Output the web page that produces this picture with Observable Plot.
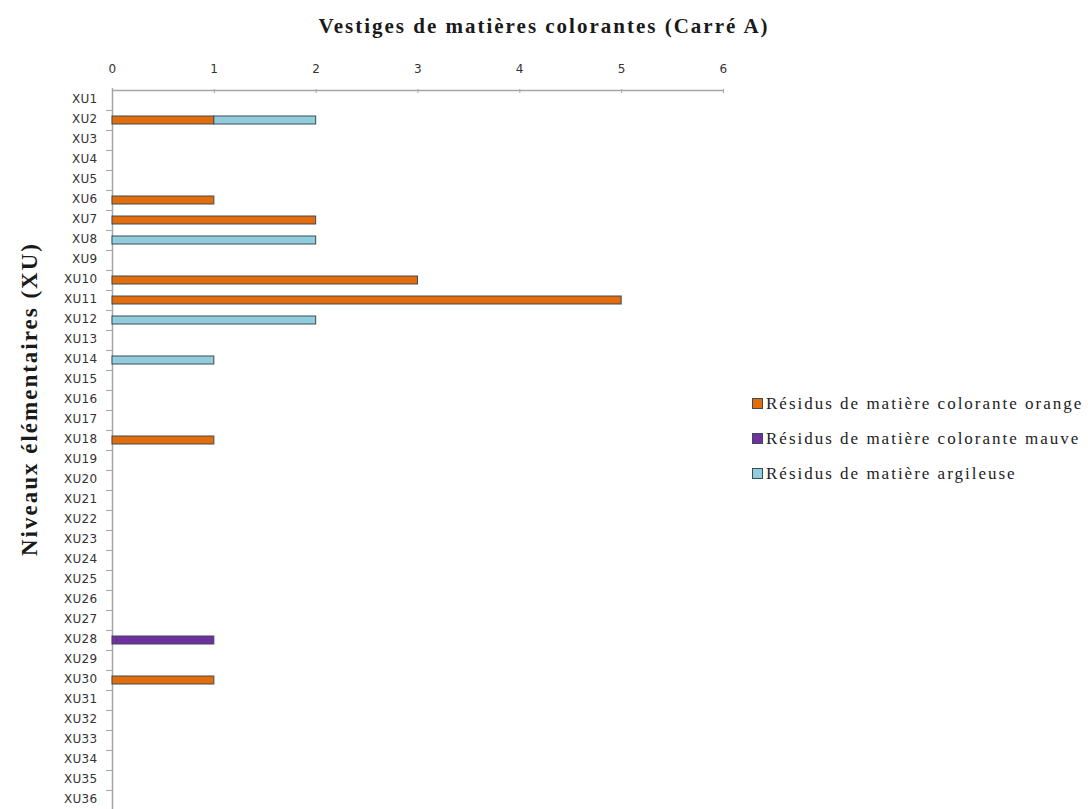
<!DOCTYPE html>
<html><head><meta charset="utf-8">
<script src="https://cdn.jsdelivr.net/npm/d3@7"></script>
<script src="https://cdn.jsdelivr.net/npm/@observablehq/plot@0.6"></script>
<style>
html,body{margin:0;padding:0;background:#fff;overflow:hidden;}
#wrap{position:relative;width:1088px;height:809px;}
#title{position:absolute;left:0;width:1088px;top:14px;text-align:center;font-family:"Liberation Serif",serif;font-weight:bold;font-size:21px;letter-spacing:2px;color:#1a1a1a;}
#ylab{position:absolute;left:30px;top:399px;transform:translate(-50%,-50%) rotate(-90deg);white-space:nowrap;font-family:"Liberation Serif",serif;font-weight:bold;font-size:23px;letter-spacing:2px;color:#1a1a1a;}
#legend{position:absolute;left:752px;top:386px;font-family:"Liberation Serif",serif;font-size:17px;letter-spacing:2px;color:#222;}
#legend .it{display:flex;align-items:center;height:35px;white-space:nowrap;}
#legend .sw{width:9px;height:9px;border:1px solid #3b4a5a;margin-right:3px;}
#chart{position:absolute;left:0;top:0;}
</style></head>
<body><div id="wrap">
<div id="chart"></div>
<div id="title">Vestiges de matières colorantes (Carré A)</div>
<div id="ylab">Niveaux élémentaires (XU)</div>
<div id="legend"></div>
</div>
<script>
const categories = Array.from({length: 36}, (_, i) => "XU" + (i + 1));
const seriesNames = ["Résidus de matière colorante orange", "Résidus de matière colorante mauve", "Résidus de matière argileuse"];
const seriesColors = ["#E46C0A", "#7030A0", "#92CDDC"];
const orangeValues = {XU2: 1, XU6: 1, XU7: 2, XU10: 3, XU11: 5, XU18: 1, XU30: 1};
const mauveValues = {XU28: 1};
const argileuseValues = {XU2: 1, XU8: 2, XU12: 2, XU14: 1};
const xTicks = [0, 1, 2, 3, 4, 5, 6];

const seriesValues = [orangeValues, mauveValues, argileuseValues];
const rows = [];
categories.forEach(c => seriesNames.forEach((s, i) => {
  const v = seriesValues[i][c];
  if (v) rows.push({cat: c, series: s, order: i, value: v});
}));

const W = 1088, H = 811, mT = 88, mB = 0, mL = 112, mR = 365;
const step = (H - mT - mB) / categories.length;

const plot = Plot.plot({
  width: W, height: H,
  marginTop: mT, marginBottom: mB, marginLeft: mL, marginRight: mR,
  x: {domain: [0, 6], axis: null},
  y: {domain: categories, padding: 0, axis: null},
  color: {domain: seriesNames, range: seriesColors},
  style: {fontFamily: "DejaVu Sans, sans-serif", letterSpacing: "0.3px"},
  marks: [
    Plot.ruleY([categories[0]], {dy: -step / 2, stroke: "#a6a6a6", strokeWidth: 1.5}),
    Plot.ruleX([0], {stroke: "#a6a6a6", strokeWidth: 1.5}),
    Plot.axisX(xTicks, {anchor: "top", label: null, tickSize: 4, dy: 4, tickFormat: () => "", stroke: "#a6a6a6"}),
    Plot.axisX(xTicks, {anchor: "top", label: null, tickSize: 0, tickPadding: 16, fontSize: 12, fill: "#333"}),
    Plot.axisY(categories, {anchor: "left", label: null, tickSize: 6, dy: step / 2, tickFormat: () => "", stroke: "#a6a6a6"}),
    Plot.axisY(categories, {anchor: "left", label: null, tickSize: 0, tickPadding: 15, dy: -1, fontSize: 12, fill: "#333"}),
    Plot.barX(rows, Plot.stackX({
      x: "value", y: "cat", fill: "series", order: "order",
      stroke: "#3b4a5a", strokeWidth: 1, insetTop: 6, insetBottom: 6
    }))
  ]
});
document.getElementById("chart").appendChild(plot);

const leg = document.getElementById("legend");
seriesNames.forEach((s, i) => {
  const d = document.createElement("div"); d.className = "it";
  const sw = document.createElement("span"); sw.className = "sw"; sw.style.background = seriesColors[i];
  const t = document.createElement("span"); t.textContent = s;
  d.appendChild(sw); d.appendChild(t); leg.appendChild(d);
});
</script>
</body></html>
